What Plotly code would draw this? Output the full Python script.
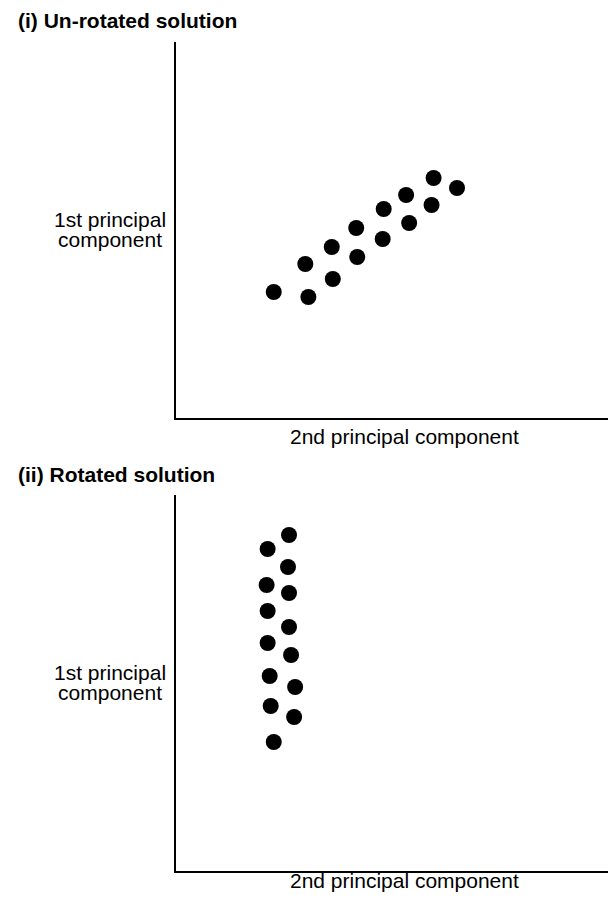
import plotly.graph_objects as go

# ---- data (arbitrary component-score units) ----
unrotated_x = [9.6, 13.0, 12.7, 15.4, 15.3, 17.8, 17.7, 20.3, 20.4, 22.9, 22.6, 25.1, 25.3, 27.6]
unrotated_y = [12.6, 12.1, 15.4, 13.9, 17.1, 16.1, 19.0, 17.9, 20.9, 19.5, 22.3, 21.3, 24.0, 23.0]

rotated_x = [11.1, 9.0, 11.0, 8.9, 11.1, 9.0, 11.1, 9.0, 11.3, 9.2, 11.7, 9.3, 11.6, 9.6]
rotated_y = [33.6, 32.2, 30.4, 28.6, 27.8, 26.0, 24.4, 22.8, 21.6, 19.5, 18.4, 16.5, 15.4, 12.9]

panel_titles = ["(i) Un-rotated solution", "(ii) Rotated solution"]
y_label_lines = ["1st principal", "component"]
x_label = "2nd principal component"

W, H = 616, 898
OFF = 8  # default page body margin
FONT = "Liberation Sans, Arial, Helvetica, sans-serif"

fig = go.Figure()
marker = dict(size=16, color="black", line=dict(width=0))
fig.add_trace(go.Scatter(x=unrotated_x, y=unrotated_y, mode="markers",
                         marker=marker, xaxis="x", yaxis="y", showlegend=False,
                         hoverinfo="skip"))
fig.add_trace(go.Scatter(x=rotated_x, y=rotated_y, mode="markers",
                         marker=marker, xaxis="x2", yaxis="y2", showlegend=False,
                         hoverinfo="skip"))


def py(p):
    return 1 - (p - OFF) / H


def px(p):
    return (p - OFF) / W


axis_common = dict(showline=True, linecolor="black", linewidth=2, showgrid=False,
                   zeroline=False, showticklabels=False, ticks="", fixedrange=True)

fig.update_layout(
    width=W, height=H,
    margin=dict(l=0, r=0, t=0, b=0),
    paper_bgcolor="white", plot_bgcolor="white",
    xaxis=dict(domain=[px(176), 1], range=[0, 44], anchor="y", **axis_common),
    yaxis=dict(domain=[py(418), py(42)], range=[0, 37.6], anchor="x", **axis_common),
    xaxis2=dict(domain=[px(176), 1], range=[0, 44], anchor="y2", **axis_common),
    yaxis2=dict(domain=[py(871), py(495)], range=[0, 37.6], anchor="x2", **axis_common),
    font=dict(family=FONT, color="black"),
)

ann = []
# panel titles
for title, yc in zip(panel_titles, [21, 474]):
    ann.append(dict(text="<b>" + title + "</b>", x=px(16), y=py(yc), xref="paper", yref="paper",
                    xanchor="left", yanchor="middle", showarrow=False,
                    font=dict(size=21, family=FONT)))
# y-axis labels (two tightly spaced lines each)
ylab = "<br>".join('<span style="font-size:21px">' + s + "</span>" for s in y_label_lines)
for yc in [229, 682]:
    ann.append(dict(text=ylab, x=px(110), y=py(yc), xref="paper", yref="paper",
                    xanchor="center", yanchor="middle", align="center", showarrow=False,
                    font=dict(size=15.5, family=FONT)))
# x-axis labels
for yc in [437, 880]:
    ann.append(dict(text=x_label, x=px(404), y=py(yc), xref="paper", yref="paper",
                    xanchor="center", yanchor="middle", showarrow=False,
                    font=dict(size=21, family=FONT)))

fig.update_layout(annotations=ann)
fig.write_html("out.html")
